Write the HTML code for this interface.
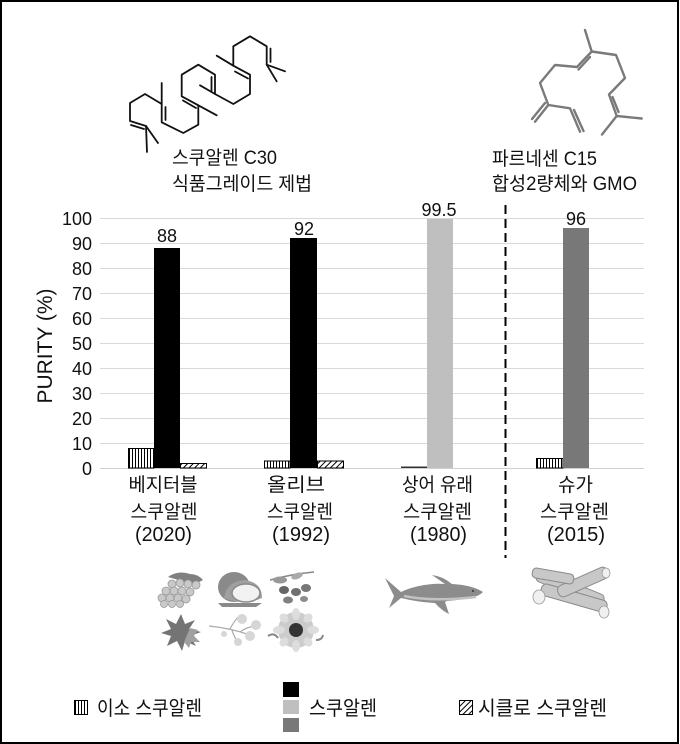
<!DOCTYPE html>
<html><head><meta charset="utf-8">
<style>
html,body{margin:0;padding:0;background:#fff;}
body{width:680px;height:744px;overflow:hidden;position:relative;}
.frame{position:absolute;left:0;top:0;width:679px;height:744px;box-sizing:border-box;border:2px solid #000;}
svg{position:absolute;left:0;top:0;}
text{font-family:"Liberation Sans","Noto Sans CJK KR",sans-serif;fill:#111;}
</style></head><body>
<svg width="680" height="744" viewBox="0 0 680 744" xmlns="http://www.w3.org/2000/svg">
<defs>
<pattern id="vstr" patternUnits="userSpaceOnUse" width="3" height="10">
<rect x="0" y="0" width="3" height="10" fill="#fff"/>
<rect x="0" y="0" width="1" height="10" fill="#000"/>
</pattern>
<pattern id="hatch" patternUnits="userSpaceOnUse" width="4" height="4" patternTransform="rotate(45)">
<rect x="0" y="0" width="4" height="4" fill="#fff"/>
<rect x="0" y="0" width="1" height="4" fill="#000"/>
</pattern>
</defs>

<!-- gridlines -->
<g stroke="#d9d9d9" stroke-width="1">
<line x1="100" y1="218.5" x2="644" y2="218.5"/>
<line x1="100" y1="243.5" x2="644" y2="243.5"/>
<line x1="100" y1="268.5" x2="644" y2="268.5"/>
<line x1="100" y1="293.5" x2="644" y2="293.5"/>
<line x1="100" y1="318.5" x2="644" y2="318.5"/>
<line x1="100" y1="343.5" x2="644" y2="343.5"/>
<line x1="100" y1="368.5" x2="644" y2="368.5"/>
<line x1="100" y1="393.5" x2="644" y2="393.5"/>
<line x1="100" y1="418.5" x2="644" y2="418.5"/>
<line x1="100" y1="443.5" x2="644" y2="443.5"/>
<line x1="100" y1="468.5" x2="644" y2="468.5" stroke="#cfcfcf"/>
</g>

<!-- y tick labels -->
<g font-size="18" text-anchor="end">
<text x="92" y="225">100</text>
<text x="92" y="250">90</text>
<text x="92" y="275">80</text>
<text x="92" y="300">70</text>
<text x="92" y="325">60</text>
<text x="92" y="350">50</text>
<text x="92" y="375">40</text>
<text x="92" y="400">30</text>
<text x="92" y="425">20</text>
<text x="92" y="450">10</text>
<text x="92" y="475">0</text>
</g>
<text transform="translate(52,346) rotate(-90)" font-size="21" text-anchor="middle" textLength="115" lengthAdjust="spacingAndGlyphs">PURITY (%)</text>

<!-- bars group 1 -->
<rect x="128.5" y="448.5" width="25.5" height="19.5" fill="url(#vstr)" stroke="#000" stroke-width="1"/>
<rect x="154" y="248" width="26" height="220" fill="#000"/>
<rect x="180.5" y="463.5" width="26" height="4.5" fill="url(#hatch)" stroke="#000" stroke-width="1"/>
<!-- group 2 -->
<rect x="264.5" y="461" width="25.5" height="7" fill="url(#vstr)" stroke="#000" stroke-width="1"/>
<rect x="290" y="238" width="27" height="230" fill="#000"/>
<rect x="317.5" y="461" width="26" height="7" fill="url(#hatch)" stroke="#000" stroke-width="1"/>
<!-- group 3 -->
<rect x="401" y="466.5" width="26" height="1.5" fill="#333"/>
<rect x="427" y="219" width="26" height="249" fill="#bfbfbf"/>
<!-- group 4 -->
<rect x="536.5" y="458.5" width="26.5" height="9.5" fill="url(#vstr)" stroke="#000" stroke-width="1"/>
<rect x="563" y="228" width="26" height="240" fill="#787878"/>

<!-- value labels -->
<g font-size="18" text-anchor="middle">
<text x="167" y="242">88</text>
<text x="304" y="235">92</text>
<text x="439" y="216">99.5</text>
<text x="576" y="225">96</text>
</g>

<!-- dashed separator -->
<line x1="505.5" y1="205" x2="505.5" y2="558" stroke="#000" stroke-width="2" stroke-dasharray="9,5"/>

<!-- x labels -->
<g font-size="19" text-anchor="middle">
<text x="163" y="491" textLength="69" lengthAdjust="spacingAndGlyphs">베지터블</text>
<text x="164" y="518" textLength="67" lengthAdjust="spacingAndGlyphs">스쿠알렌</text>
<text x="163.5" y="541" font-size="20" textLength="57" lengthAdjust="spacingAndGlyphs">(2020)</text>

<text x="296" y="491" textLength="58" lengthAdjust="spacingAndGlyphs">올리브</text>
<text x="300" y="518" textLength="66" lengthAdjust="spacingAndGlyphs">스쿠알렌</text>
<text x="301" y="541" font-size="20" textLength="58" lengthAdjust="spacingAndGlyphs">(1992)</text>

<text x="437.5" y="491" textLength="71" lengthAdjust="spacingAndGlyphs">상어 유래</text>
<text x="437.5" y="518" textLength="69" lengthAdjust="spacingAndGlyphs">스쿠알렌</text>
<text x="438.5" y="541" font-size="20" textLength="57" lengthAdjust="spacingAndGlyphs">(1980)</text>

<text x="575.5" y="491" textLength="35" lengthAdjust="spacingAndGlyphs">슈가</text>
<text x="574.5" y="518" textLength="69" lengthAdjust="spacingAndGlyphs">스쿠알렌</text>
<text x="576" y="541" font-size="20" textLength="58" lengthAdjust="spacingAndGlyphs">(2015)</text>
</g>

<!-- top labels -->
<g font-size="19">
<text x="172" y="164" textLength="105" lengthAdjust="spacingAndGlyphs">스쿠알렌 C30</text>
<text x="172" y="190" textLength="140" lengthAdjust="spacingAndGlyphs">식품그레이드 제법</text>
<text x="492" y="165" textLength="105" lengthAdjust="spacingAndGlyphs">파르네센 C15</text>
<text x="492" y="190" textLength="145" lengthAdjust="spacingAndGlyphs">합성2량체와 GMO</text>
</g>

<!-- squalene -->
<g stroke="#111" stroke-width="1.8" fill="none" stroke-linecap="round" stroke-linejoin="round">
<polyline points="147,152 146,126 130,121 130,103 145,94 161.7,104 161.7,122.3 183.3,133 198.3,124.7 198.3,105.3 181.7,96.3 181.7,74.7 198.3,64.7 215,74.7 215,94 233.3,104 250,94 250,74.7 233.3,65.7 233.3,46.3 250,36.3 266.7,46.3 266.7,64.7 285,71.3"/>
<line x1="146" y1="126" x2="158" y2="143"/>
<line x1="131" y1="125" x2="144" y2="129"/>
<line x1="161.7" y1="104" x2="161.7" y2="83"/>
<line x1="165.5" y1="107" x2="165.5" y2="120"/>
<line x1="198.3" y1="105.3" x2="216.7" y2="115.3"/>
<line x1="183" y1="100.5" x2="196" y2="108"/>
<line x1="211.5" y1="77" x2="211.5" y2="91"/>
<line x1="215" y1="94" x2="200" y2="85.3"/>
<line x1="248" y1="78.5" x2="235" y2="71.5"/>
<line x1="233.3" y1="65.7" x2="216.7" y2="55.7"/>
<line x1="270.5" y1="48.5" x2="270.5" y2="62"/>
<line x1="266.7" y1="64.7" x2="276.7" y2="81.3"/>
</g>

<!-- farnesene -->
<g stroke="#7a7a7a" stroke-width="2.4" fill="none" stroke-linecap="round" stroke-linejoin="round">
<polyline points="585,30 591.7,51.5 616,55 625,78 609,94.5 616.7,116 641.7,118.5"/>
<line x1="616.7" y1="116" x2="602" y2="134.5"/>
<line x1="612.5" y1="97" x2="618.5" y2="112"/>
<polyline points="591.7,51.5 577,67 555,65 540,83 548.3,105 570,108.3 580,131.7"/>
<line x1="590" y1="57" x2="578.5" y2="69.5"/>
<line x1="548.3" y1="105" x2="535" y2="121.7"/>
<line x1="545" y1="103" x2="532" y2="119"/>
<line x1="574" y1="110" x2="583.5" y2="131"/>
</g>

<!-- images: grapes -->
<g>
<path d="M168,577 q10,-7 22,-3 q8,0 13,6 q-6,4 -14,3 z" fill="#808080"/>
<g fill="#c9c9c9" stroke="#999" stroke-width="0.8">
<circle cx="172" cy="584" r="4"/><circle cx="180" cy="583" r="4"/><circle cx="188" cy="584" r="4"/><circle cx="196" cy="585" r="4"/>
<circle cx="166" cy="591" r="4"/><circle cx="174" cy="591" r="4"/><circle cx="182" cy="591" r="4"/><circle cx="190" cy="592" r="4"/>
<circle cx="162" cy="598" r="4"/><circle cx="170" cy="598" r="4"/><circle cx="178" cy="598" r="4"/><circle cx="186" cy="599" r="4"/>
<circle cx="164" cy="604" r="3.5"/><circle cx="172" cy="604" r="3.5"/><circle cx="180" cy="604" r="3.5"/>
</g>
</g>
<!-- coconut -->
<g>
<ellipse cx="234" cy="587" rx="16" ry="15" fill="#8a8a8a"/>
<path d="M224,598 q2,-16 20,-18 q18,2 18,18 q-18,8 -38,0 z" fill="#a0a0a0"/>
<ellipse cx="246" cy="593" rx="14" ry="9" fill="#f2f2f2" stroke="#8a8a8a" stroke-width="1.5"/>
<path d="M218,603 l44,0 l-6,4 l-34,0 z" fill="#8a8a8a"/>
</g>
<!-- olives -->
<g>
<path d="M270,580 q22,-6 44,-8" stroke="#888" stroke-width="1.5" fill="none"/>
<ellipse cx="280" cy="580" rx="7" ry="3.5" fill="#999"/>
<ellipse cx="297" cy="576" rx="6" ry="3" fill="#aaa" transform="rotate(-20 297 576)"/>
<ellipse cx="284" cy="590" rx="5" ry="4" fill="#666"/>
<ellipse cx="296" cy="592" rx="5" ry="4" fill="#707070"/>
<ellipse cx="306" cy="588" rx="5" ry="4" fill="#777"/>
<ellipse cx="288" cy="600" rx="5" ry="3.5" fill="#808080"/>
<ellipse cx="304" cy="599" rx="4" ry="3" fill="#8c8c8c"/>
</g>
<!-- castor plant -->
<g>
<path d="M181,614 l4,10 l10,-4 l-6,9 l12,3 l-11,4 l6,10 l-11,-5 l-3,10 l-5,-10 l-10,5 l4,-10 l-10,-3 l10,-4 l-5,-10 l10,5 z" fill="#747474"/>
<path d="M190,628 l8,2 l-4,6 l6,6 l-9,0 l-2,6 l-5,-6 z" fill="#a0a0a0"/>
</g>
<!-- flower branch -->
<g stroke="#aaa" stroke-width="1.2" fill="none">
<path d="M209,626 q20,2 38,8 M230,629 q4,-8 10,-14 M240,632 q8,-6 18,-6 M232,630 q2,8 8,14"/>
</g>
<g fill="#d6d6d6">
<circle cx="242" cy="619" r="5"/><circle cx="256" cy="625" r="5"/><circle cx="250" cy="636" r="5"/><circle cx="238" cy="642" r="4"/><circle cx="224" cy="634" r="3"/>
</g>
<!-- sunflower -->
<g>
<circle cx="296" cy="630" r="18" fill="#cccccc"/>
<g fill="#dddddd">
<ellipse cx="296" cy="614" rx="4" ry="6"/><ellipse cx="296" cy="646" rx="4" ry="6"/>
<ellipse cx="279" cy="630" rx="6" ry="4"/><ellipse cx="313" cy="630" rx="6" ry="4"/>
<ellipse cx="284" cy="618" rx="4" ry="5" transform="rotate(-45 284 618)"/><ellipse cx="308" cy="642" rx="4" ry="5" transform="rotate(-45 308 642)"/>
<ellipse cx="308" cy="618" rx="4" ry="5" transform="rotate(45 308 618)"/><ellipse cx="284" cy="642" rx="4" ry="5" transform="rotate(45 284 642)"/>
</g>
<circle cx="296" cy="630" r="7" fill="#333"/>
<path d="M268,636 q6,-4 10,2 M316,640 q6,0 7,-5" stroke="#888" stroke-width="2" fill="none"/>
</g>
<!-- shark -->
<g>
<path d="M385,578 l16,14 q8,-4 18,-6 q14,-3 26,-2 l-13,-9 q10,1 20,9 q20,1 31,8 q-4,4 -10,5 q-12,3 -26,4 l-2,1 l4,12 q-8,-4 -14,-11 q-18,-1 -34,-5 l-12,10 l5,-12 z" fill="#8c8c8c"/>
<path d="M404,596 q28,6 72,1" stroke="#c2c2c2" stroke-width="2.5" fill="none"/>
<circle cx="473" cy="591" r="1" fill="#333"/>
</g>
<!-- sugarcane -->
<g stroke="#8a8a8a" stroke-width="1" fill="#c8c8c8">
<rect x="534" y="582" width="72" height="12" rx="5" transform="rotate(22 570 588)"/>
<rect x="540" y="592" width="68" height="12" rx="5" transform="rotate(16 574 598)"/>
<rect x="556" y="576" width="54" height="12" rx="5" transform="rotate(-24 583 582)"/>
<rect x="532" y="571" width="42" height="10" rx="4" transform="rotate(10 553 576)"/>
</g>
<g fill="#f0f0f0" stroke="#999" stroke-width="0.8">
<ellipse cx="539" cy="597" rx="6" ry="7"/>
<ellipse cx="604" cy="612" rx="5" ry="6"/>
<ellipse cx="606" cy="573" rx="4" ry="5"/>
</g>

<!-- legend -->
<rect x="74.5" y="700.5" width="13" height="14" fill="url(#vstr)" stroke="#000" stroke-width="1"/>
<text x="97" y="715" font-size="20" textLength="105" lengthAdjust="spacingAndGlyphs">이소 스쿠알렌</text>
<rect x="283" y="682" width="16" height="15" fill="#000"/>
<rect x="283" y="700" width="16" height="14" fill="#bfbfbf"/>
<rect x="283" y="718" width="16" height="14" fill="#787878"/>
<text x="309" y="715" font-size="20" textLength="68" lengthAdjust="spacingAndGlyphs">스쿠알렌</text>
<rect x="459.5" y="700.5" width="13" height="14" fill="url(#hatch)" stroke="#000" stroke-width="1"/>
<text x="478" y="715" font-size="20" textLength="129" lengthAdjust="spacingAndGlyphs">시클로 스쿠알렌</text>
</svg>
<div class="frame"></div>
</body></html>
